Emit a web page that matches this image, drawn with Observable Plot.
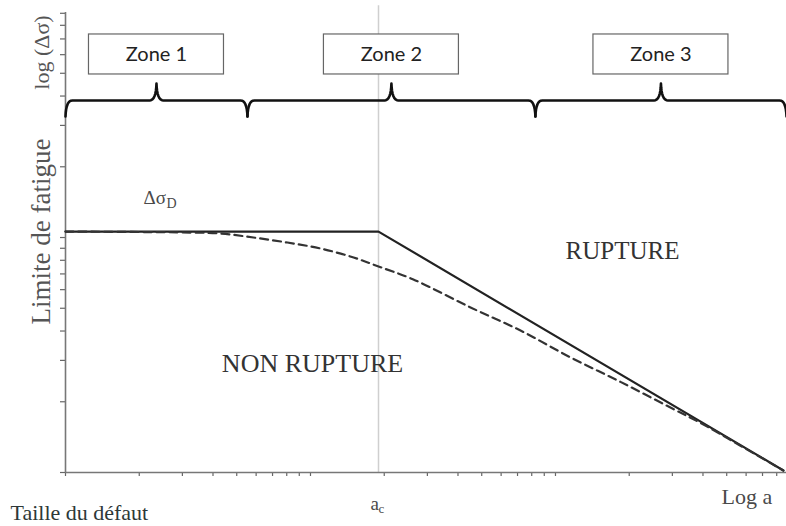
<!DOCTYPE html>
<html>
<head>
<meta charset="utf-8">
<script src="https://cdn.jsdelivr.net/npm/d3@7"></script>
<script src="https://cdn.jsdelivr.net/npm/@observablehq/plot@0.6"></script>
<style>
  html, body { margin: 0; padding: 0; background: #fff; }
  #chart svg { display: block; }
</style>
</head>
<body>
<div id="chart"></div>
<script>
// ---------- data ----------
const xDomain = [1, 877];          // taille du défaut (log)
const yDomain = [1, 90.7];         // log(Δσ)
const xTicks = [1,2,3,4,5,6,7,8,9,10,20,30,40,50,60,70,80,90,100,200,300,400,500,600,700,800];
const yTicks = [1,2,3,4,5,6,7,8,9,10,20,30,40,50,60,70,80,90];
const ac = 18.95;                  // a_c
const solidX = [1, 18.95, 852];
const solidY = [10.6, 10.6, 1.02];
const dashedX = [1, 3.24, 4.29, 5.85, 8.05, 11.0, 15.0, 18.95, 26.3, 45.0, 72.0, 115.1, 184.2, 294.7, 401.9, 569, 852];
const dashedY = [10.6, 10.5, 10.4, 10.0, 9.52, 8.98, 8.22, 7.53, 6.63, 5.04, 4.02, 3.09, 2.43, 1.89, 1.60, 1.30, 1.02];
const zoneBounds = [1, 5.53, 82.8, 877];
const zoneLabels = ["Zone 1", "Zone 2", "Zone 3"];
const braceLevel = 38.3;
const regionLabels = ["RUPTURE", "NON RUPTURE"];
const yLabelTop = ["log (Δσ)"];
const yLabelMain = ["Limite de fatigue"];
const xLabelLeft = ["Taille du défaut"];
const xLabelRight = ["Log a"];
const acLabel = ["a", "c"];
const sigmaLabel = ["Δσ", "D"];

// ---------- layout ----------
const W = 786, H = 526, mL = 65, mR = 0, mT = 12, mB = 54;
const xs = d3.scaleLog().domain(xDomain).range([mL, W - mR]);
const ys = d3.scaleLog().domain(yDomain).range([H - mB, mT]);

const solid = solidX.map((x, i) => ({x, y: solidY[i]}));
const dashed = dashedX.map((x, i) => ({x, y: dashedY[i]}));

function quad(p0, c, p1, n = 8) {
  const out = [];
  for (let i = 0; i <= n; i++) {
    const t = i / n, u = 1 - t;
    out.push([u*u*p0[0] + 2*u*t*c[0] + t*t*p1[0], u*u*p0[1] + 2*u*t*c[1] + t*t*p1[1]]);
  }
  return out;
}
const braceRows = [], boxRows = [];
for (let i = 0; i < zoneBounds.length - 1; i++) {
  const a = xs(zoneBounds[i]), b = xs(zoneBounds[i + 1]), m = (a + b) / 2, yb = ys(braceLevel);
  const up = 17, down = 16, q = 7;
  const pts = [
    ...quad([a, yb + down], [a + 0.5, yb], [a + q, yb]),
    ...quad([m - q, yb], [m - 0.5, yb], [m, yb - up]),
    ...quad([m, yb - up], [m + 0.5, yb], [m + q, yb]),
    ...quad([b - q, yb], [b - 0.5, yb], [b, yb + down])
  ];
  pts.forEach(([px, py]) => braceRows.push({zone: i, x: xs.invert(px), y: ys.invert(py)}));
  boxRows.push({
    label: zoneLabels[i],
    x1: xs.invert(m - 67.5), x2: xs.invert(m + 67.5),
    y1: ys.invert(yb - 26), y2: ys.invert(yb - 66),
    cx: xs.invert(m), cy: ys.invert(yb - 46)
  });
}

const serif = "Liberation Serif";
const gray = "#4a4a4a";
const T = (data, o) => Plot.text(data, {text: d => d, frameAnchor: "top-left", fontFamily: serif, lineAnchor: "bottom", textAnchor: "start", ...o});

const chart = Plot.plot({
  width: W, height: H,
  marginLeft: mL, marginRight: mR, marginTop: mT, marginBottom: mB,
  x: {type: "log", domain: xDomain},
  y: {type: "log", domain: yDomain},
  style: {background: "#fff", fontFamily: serif, overflow: "visible"},
  marks: [
    Plot.ruleX([ac], {y1: 1, y2: 97, stroke: "#cfcfcf", strokeWidth: 1.5}),
    Plot.axisX(xTicks, {tickSize: 4, tickFormat: () => "", label: null, stroke: "#666", strokeWidth: 1.2}),
    Plot.axisY(yTicks, {tickSize: 5, tickFormat: () => "", label: null, stroke: "#666", strokeWidth: 1.2}),
    Plot.ruleY([1], {x1: 1, x2: xDomain[1], stroke: "#777", strokeWidth: 1.6}),
    Plot.ruleX([1], {y1: 1, y2: yDomain[1], stroke: "#777", strokeWidth: 1.6}),
    Plot.line(solid, {x: "x", y: "y", stroke: "#222", strokeWidth: 2.2}),
    Plot.line(dashed, {x: "x", y: "y", stroke: "#333", strokeWidth: 2.2, strokeDasharray: "8,5", curve: "catmull-rom"}),
    Plot.line(braceRows, {x: "x", y: "y", z: "zone", stroke: "#111", strokeWidth: 2.6, strokeLinejoin: "round", strokeLinecap: "round"}),
    Plot.rect(boxRows, {x1: "x1", x2: "x2", y1: "y1", y2: "y2", fill: "#fff", stroke: "#666", strokeWidth: 1.2}),
    Plot.text(boxRows, {x: "cx", y: "cy", text: "label", fontFamily: "Lato", fontSize: 20, fill: "#222"}),
    // region labels
    T([regionLabels[0]], {dx: 557, dy: 246, textAnchor: "middle", fontSize: 25, fill: "#333"}),
    T([regionLabels[1]], {dx: 247, dy: 359, textAnchor: "middle", fontSize: 26, fill: "#333"}),
    // Δσ_D
    T([sigmaLabel[0]], {dx: 78, dy: 191, fontSize: 19, fill: gray}),
    T([sigmaLabel[1]], {dx: 101, dy: 195, fontSize: 14, fill: gray}),
    // y labels
    T(yLabelTop, {dx: -24, dy: 40, rotate: -90, textAnchor: "middle", lineAnchor: "middle", fontSize: 22, fill: "#555"}),
    T(yLabelMain, {dx: -24, dy: 219, rotate: -90, textAnchor: "middle", lineAnchor: "middle", fontSize: 27, fill: "#555"}),
    // x labels
    T([acLabel[0]], {dx: 305, dy: 497, fontSize: 19, fill: gray}),
    T([acLabel[1]], {dx: 313, dy: 500, fontSize: 13, fill: gray}),
    T(xLabelRight, {dx: 656, dy: 491, fontSize: 22, fill: gray}),
    T(xLabelLeft, {dx: -55, dy: 507, fontSize: 22, fill: "#2d3838"})
  ]
});
document.getElementById("chart").appendChild(chart);
</script>
</body>
</html>
